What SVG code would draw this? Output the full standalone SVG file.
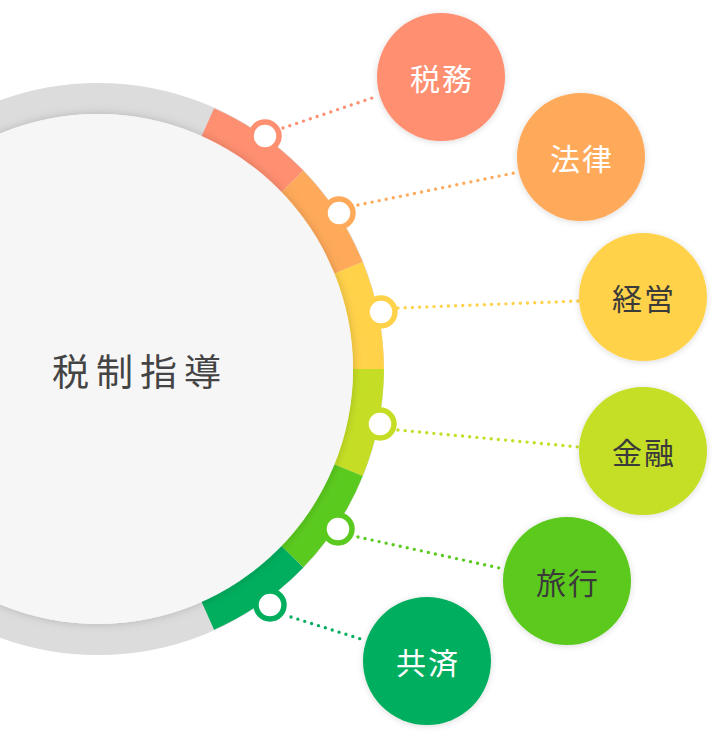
<svg xmlns="http://www.w3.org/2000/svg" width="720" height="738" viewBox="0 0 720 738">
<defs>
<filter id="sh" x="-20%" y="-20%" width="140%" height="140%"><feDropShadow dx="0" dy="1" stdDeviation="3" flood-color="#000" flood-opacity="0.15"/></filter>
<filter id="shc" x="-20%" y="-20%" width="140%" height="140%"><feDropShadow dx="0" dy="0" stdDeviation="5" flood-color="#000" flood-opacity="0.18"/></filter>
</defs>
<style>
.seg{fill:none;stroke-width:31}
.mk{fill:#fff;stroke-width:5.5}
.dl{fill:none;stroke-width:3.4;stroke-linecap:round;stroke-dasharray:0 7.2}
.lbl{font-family:"Noto Sans CJK JP","Noto Sans CJK SC",sans-serif;font-size:30px;text-anchor:middle;dominant-baseline:central;letter-spacing:2px}
.w{fill:#fff}
.d{fill:#3a3a3a}
</style>
<rect width="720" height="738" fill="#fff"/>
<g id="ring">
<circle cx="98" cy="369" r="270.5" fill="none" stroke="#dcdcdc" stroke-width="31"/>
<path class="seg" stroke="#FF8F71" d="M207.8 122.4 A270.5 270.5 0 0 1 292.2 181.4"/>
<path class="seg" stroke="#FFAA5A" d="M292.2 181.4 A270.5 270.5 0 0 1 348.3 267.9"/>
<path class="seg" stroke="#FFD24A" d="M348.3 267.9 A270.5 270.5 0 0 1 368.5 369"/>
<path class="seg" stroke="#C5DE25" d="M368.5 369 A270.5 270.5 0 0 1 348.3 470.1"/>
<path class="seg" stroke="#5BCA1F" d="M348.3 470.1 A270.5 270.5 0 0 1 292.2 556.6"/>
<path class="seg" stroke="#00AE5E" d="M292.2 556.6 A270.5 270.5 0 0 1 207.8 615.6"/>
</g>
<g id="center">
<circle cx="98" cy="369" r="255" fill="#f6f6f6" filter="url(#shc)"/>
<text x="140" y="370" font-family="Noto Sans CJK JP,Noto Sans CJK SC,sans-serif" font-size="37" fill="#444" text-anchor="middle" dominant-baseline="central" letter-spacing="7">税制指導</text>
</g>
<g id="connectors">
<line class="dl" stroke="#FF8F71" x1="283" y1="128" x2="378" y2="96"/>
<line class="dl" stroke="#FFAA5A" x1="358" y1="205" x2="519" y2="172"/>
<line class="dl" stroke="#FFD24A" x1="398" y1="308" x2="579" y2="301"/>
<line class="dl" stroke="#C5DE25" x1="398" y1="430" x2="579" y2="447"/>
<line class="dl" stroke="#5BCA1F" x1="358" y1="537" x2="504" y2="569"/>
<line class="dl" stroke="#00AE5E" x1="291" y1="617" x2="364" y2="640"/>
</g>
<g id="markers">
<circle class="mk" stroke="#FF8F71" cx="265" cy="136" r="14"/>
<circle class="mk" stroke="#FFAA5A" cx="339" cy="213" r="14"/>
<circle class="mk" stroke="#FFD24A" cx="381" cy="312" r="14"/>
<circle class="mk" stroke="#C5DE25" cx="380" cy="424" r="14"/>
<circle class="mk" stroke="#5BCA1F" cx="338" cy="529" r="14"/>
<circle class="mk" stroke="#00AE5E" cx="270" cy="605" r="14"/>
</g>
<g id="node-zeimu"><circle cx="441" cy="77" r="64" fill="#FF8F71" filter="url(#sh)"/><text class="lbl w" x="442" y="77">税務</text></g>
<g id="node-houritsu"><circle cx="581" cy="157" r="64" fill="#FFAA5A" filter="url(#sh)"/><text class="lbl w" x="582" y="157">法律</text></g>
<g id="node-keiei"><circle cx="643" cy="297" r="64" fill="#FFD24A" filter="url(#sh)"/><text class="lbl d" x="644" y="297">経営</text></g>
<g id="node-kinyu"><circle cx="643" cy="451" r="64" fill="#C5DE25" filter="url(#sh)"/><text class="lbl d" x="644" y="451">金融</text></g>
<g id="node-ryokou"><circle cx="567" cy="581" r="64" fill="#5BCA1F" filter="url(#sh)"/><text class="lbl d" x="568" y="581">旅行</text></g>
<g id="node-kyousai"><circle cx="427" cy="661" r="64" fill="#00AE5E" filter="url(#sh)"/><text class="lbl w" x="428" y="661">共済</text></g>
</svg>
